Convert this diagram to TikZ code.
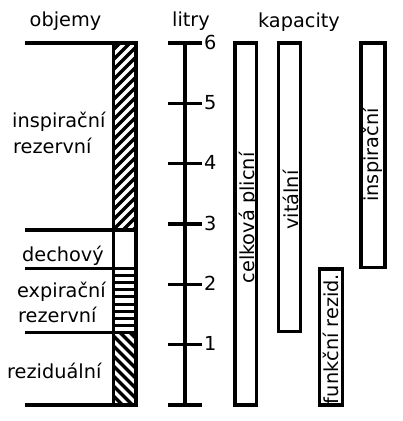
\documentclass[tikz,border=0pt]{standalone}
\usepackage{fontspec}
\setmainfont{DejaVu Sans}
\begin{document}
\begin{tikzpicture}[x=1pt,y=-1pt,
  thick line/.style={line width=3.2pt},
  capbox/.style={line width=3.2pt},
  lbl/.style={inner sep=0pt,font=\fontsize{19.3}{23}\selectfont},
  hatch/.style={line width=3.4pt}]
\useasboundingbox (0,0) rectangle (403,421);
% titles
\node[lbl,anchor=base] (tobj) at (65.5,26) {objemy};
\node[lbl,anchor=base] (tlit) at (191,26) {litry};
\node[lbl,anchor=base] (tkap) at (299,27) {kapacity};
% ---- volumes column: hatching
\begin{scope}
\clip (113.3,43) rectangle (136,230);
\foreach \k in {0,...,22} {
  \draw[hatch] (100,{43+\k*10}) -- ++(50,-50);
}
\end{scope}
\begin{scope}
\clip (113.3,332.5) rectangle (136,405);
\foreach \k in {-6,...,8} {
  \draw[hatch] (100,{332.5+\k*10}) -- ++(50,50);
}
\end{scope}
\begin{scope}
\clip (113.3,268.5) rectangle (136,332.5);
\foreach \k in {1,...,8} {
  \draw[line width=3pt] (110,{268.5+\k*7.1}) -- (140,{268.5+\k*7.1});
}
\end{scope}
% bar outline and dividers
\coordinate (b1) at (113.3,43);
\coordinate (b2) at (136,405);
\draw[thick line] (b1) rectangle (b2);
\foreach \y/\n in {43/d0,230/d1,268.5/d2,332.5/d3,405/d4} {
  \coordinate (\n l) at (25,\y);
  \coordinate (\n r) at (136,\y);
  \draw[thick line] (\n l) -- (\n r);
}
% volume labels
\node[lbl,anchor=base west] (vir1) at (12,127) {inspirační};
\node[lbl,anchor=base west] (vir2) at (13,153) {rezervní};
\node[lbl,anchor=base west] (vdech) at (22,261) {dechový};
\node[lbl,anchor=base west] (ver1) at (17,297) {expirační};
\node[lbl,anchor=base west] (ver2) at (18,322) {rezervní};
\node[lbl,anchor=base west] (vres) at (7,378) {reziduální};
% ---- axis
\coordinate (atop) at (185,43);
\coordinate (abot) at (185,405);
\draw[thick line] (atop) -- (abot);
\foreach \v in {0,...,6} {
  \coordinate (tl\v) at (168,{405-\v*60.33});
  \coordinate (tr\v) at (202,{405-\v*60.33});
  \draw[thick line] (tl\v) -- (tr\v);
}
\foreach \v in {1,...,6} {
  \node[lbl,anchor=west] (n\v) at ([xshift=2pt,yshift=1pt]tr\v) {\v};
}
% ---- capacities
\draw[capbox] (235,43) rectangle (256.5,405);
\node[lbl,anchor=base,rotate=90] (ctlc) at (254,218) {celková plicní};
\draw[capbox] (278.5,43) rectangle (300.5,331.5);
\node[lbl,anchor=base,rotate=90] (cvit) at (298,200) {vitální};
\draw[capbox] (319.5,269) rectangle (342.3,405);
\node[lbl,anchor=base,rotate=90] (cfrc) at (338.5,339) {funkční rezid.};
\draw[capbox] (361,43) rectangle (385,267.6);
\node[lbl,anchor=base,rotate=90] (cins) at (378,155) {inspirační};
\end{tikzpicture}
\end{document}
